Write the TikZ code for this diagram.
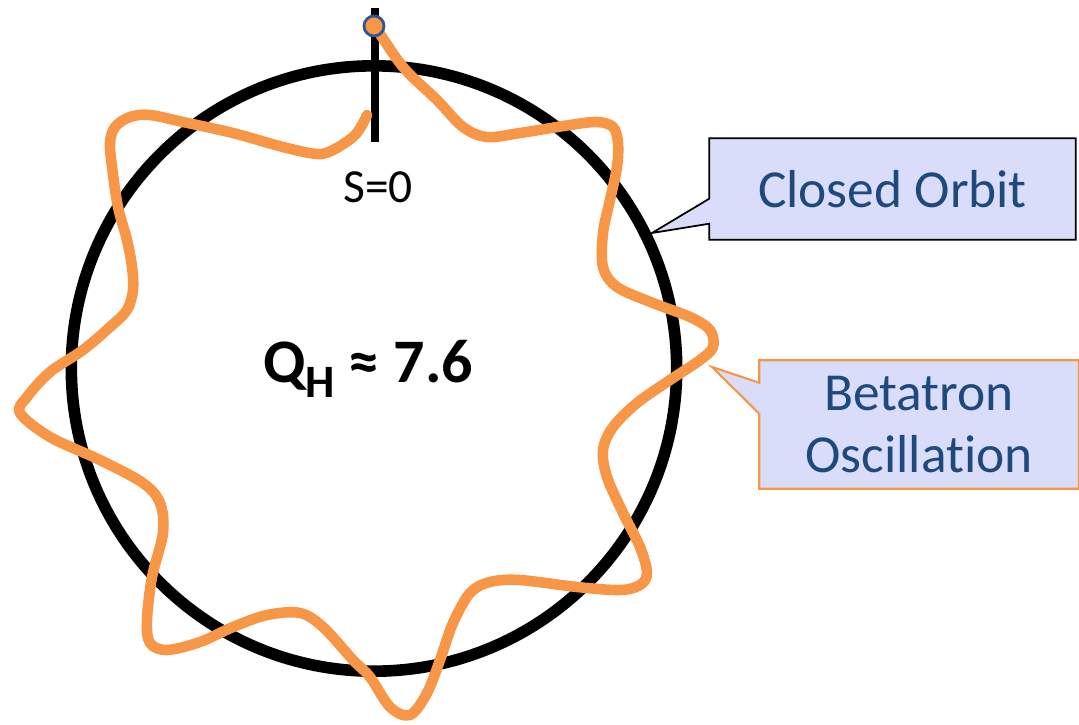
\documentclass[tikz,border=0pt]{standalone}
\usepackage{fontspec}
\setmainfont{Carlito}[Ligatures=NoCommon]
\usetikzlibrary{backgrounds}

\definecolor{beamorange}{RGB}{247,150,70}
\definecolor{labelblue}{RGB}{31,73,125}
\definecolor{dotblue}{RGB}{47,85,151}
\definecolor{calloutfill}{RGB}{218,221,250}

\begin{document}
\begin{tikzpicture}[x=0.01cm,y=-0.01cm,
  ring/.style={line width=3.3pt},
  beam/.style={line width=3pt,beamorange,line cap=round,line join=round},
  callout/.style={inner sep=0pt,text=labelblue,font=\fontsize{15.2}{17.6}\selectfont},
]
\useasboundingbox (0,0) rectangle (1079,724);
% closed orbit and the s=0 mark
\draw[ring] (374,368.5) circle [radius=3.025cm];
\draw[line width=2.4pt] (375,8) -- (375,142);
\node (s0) at (378,187) {\fontsize{13.5}{14}\selectfont S=0};
\node[anchor=base,font=\bfseries\fontsize{17.6}{19}\selectfont] (qh) at (368,382)
  {Q\raisebox{-4.3pt}{\fontsize{13.2}{14}\selectfont H} ≈ 7.6};

% betatron oscillation, traced by hand
\draw[beam] plot[smooth,tension=0.55] coordinates {
  (375,26) (403,67) (437,100) (463,127) (487,137) (520,133) (570,125) (597,122)
  (613,127) (618,143) (617,167) (610,200) (603,233) (603,267) (617,287) (653,303)
  (690,317) (710,330) (713,347) (700,360) (670,380) (637,403) (613,427) (603,450)
  (607,477) (623,513) (640,547) (647,573) (640,585) (620,590) (577,587) (520,580)
  (490,582) (470,593) (453,623) (440,660) (427,693) (410,715) (390,707) (370,677)
  (353,660) (323,627) (300,613) (267,615) (233,627) (200,642) (167,650) (150,643)
  (147,620) (152,577) (163,533) (160,503) (143,483) (100,460) (50,437) (20,413)
  (27,397) (50,372) (83,350) (110,327) (127,310) (133,290) (132,267) (127,240)
  (118,207) (112,167) (110,143) (115,127) (130,117) (150,115) (183,122) (233,133)
  (283,147) (317,154) (333,150) (353,137) (362,125) (367,115)};
\node[circle,fill=beamorange,draw=dotblue,line width=0.8pt,inner sep=0pt,minimum size=0.2cm] (start) at (374,26) {};

% callouts
\node[callout,minimum width=3.65cm,text height=19.6pt,text depth=8.85pt] (orbit) at (892.5,189) {Closed Orbit};
\coordinate (orbittip) at (652,233);
\node[callout,align=center,minimum width=3.18cm,minimum height=1.27cm] (betatron) at (919,424.5) {Betatron\\Oscillation};
\coordinate (betatrontip) at (712,367);
\begin{scope}[on background layer]
\draw[fill=calloutfill,line width=0.5pt] (orbit.north west) -- (orbit.north east) -- (orbit.south east)
  -- (orbit.south west) -- ([yshift=0.16cm]orbit.south west) -- (orbittip)
  -- ([yshift=0.41cm]orbit.south west) -- cycle;
\draw[fill=calloutfill,draw=beamorange,line width=0.6pt] (betatron.north west) -- (betatron.north east)
  -- (betatron.south east) -- (betatron.south west) -- ([yshift=0.75cm]betatron.south west)
  -- (betatrontip) -- ([yshift=1.06cm]betatron.south west) -- cycle;
\end{scope}
\end{tikzpicture}
\end{document}
